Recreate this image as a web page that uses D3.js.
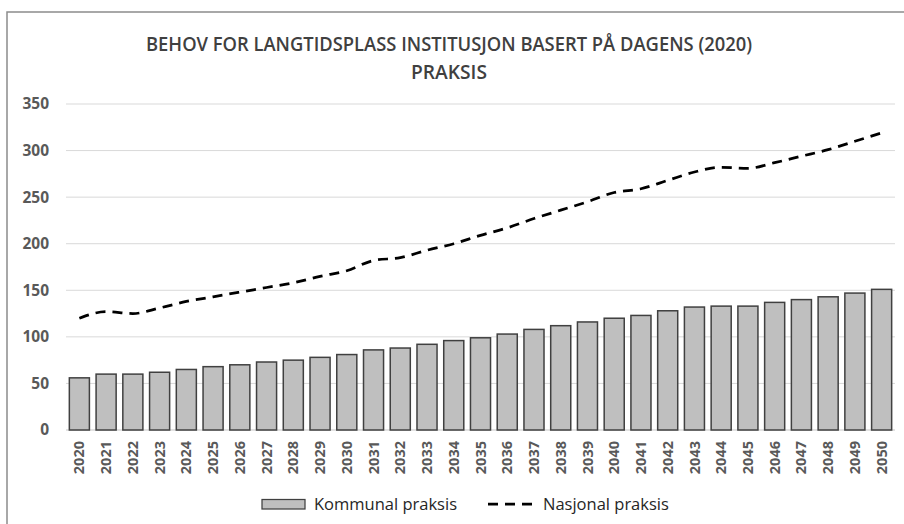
<!DOCTYPE html>
<html>
<head>
<meta charset="utf-8">
<script src="https://cdn.jsdelivr.net/npm/d3@7"></script>
<style>
  body { margin: 0; background: #fff; }
  svg { display: block; font-family: "Open Sans", sans-serif; }
</style>
</head>
<body>
<svg width="904" height="524"></svg>
<script>
var years = ["2020","2021","2022","2023","2024","2025","2026","2027","2028","2029","2030",
             "2031","2032","2033","2034","2035","2036","2037","2038","2039","2040",
             "2041","2042","2043","2044","2045","2046","2047","2048","2049","2050"];

var kommunal = [56, 60, 60, 62, 65, 68, 70, 73, 75, 78, 81,
                86, 88, 92, 96, 99, 103, 108, 112, 116, 120,
                123, 128, 132, 133, 133, 137, 140, 143, 147, 151];

var nasjonal = [120, 127, 125, 131, 138, 143, 148, 153, 158, 165, 171,
                182, 185, 193, 200, 209, 217, 227, 236, 245, 255,
                259, 268, 277, 282, 281, 287, 294, 301, 310, 319];

var yTicks = [0, 50, 100, 150, 200, 250, 300, 350];

var titleLines = ["BEHOV FOR LANGTIDSPLASS INSTITUSJON BASERT PÅ DAGENS (2020)", "PRAKSIS"];
var legendNames = ["Kommunal praksis", "Nasjonal praksis"];

var svg = d3.select("svg"),
    margin = { top: 104, right: 9, bottom: 94, left: 66 },
    width = +svg.attr("width") - margin.left - margin.right,
    height = +svg.attr("height") - margin.top - margin.bottom;

// outer frame (only left and top edges visible in the picture)
svg.append("rect")
    .attr("x", 7).attr("y", 12)
    .attr("width", 940).attr("height", 560)
    .attr("fill", "none")
    .attr("stroke", "#8c8c8c")
    .attr("stroke-width", 1.5);

// title
svg.append("text")
    .attr("x", 449).attr("y", 51)
    .attr("text-anchor", "middle")
    .attr("font-size", 20)
    .attr("font-weight", 600)
    .attr("fill", "#404040")
    .attr("textLength", 606)
    .attr("lengthAdjust", "spacingAndGlyphs")
    .text(titleLines[0]);
svg.append("text")
    .attr("x", 449).attr("y", 79)
    .attr("text-anchor", "middle")
    .attr("font-size", 20)
    .attr("font-weight", 600)
    .attr("fill", "#404040")
    .attr("textLength", 76)
    .attr("lengthAdjust", "spacingAndGlyphs")
    .text(titleLines[1]);

var g = svg.append("g").attr("transform", "translate(" + margin.left + "," + margin.top + ")");

var x = d3.scaleBand()
    .domain(years)
    .range([0, width])
    .paddingInner(0.25)
    .paddingOuter(0.125);

var y = d3.scaleLinear()
    .domain([0, 350])
    .range([height, 0]);

// gridlines
g.append("g")
    .selectAll("line")
    .data(yTicks)
    .enter().append("line")
    .attr("x1", 0).attr("x2", width)
    .attr("y1", function (d) { return y(d); })
    .attr("y2", function (d) { return y(d); })
    .attr("stroke", "#d9d9d9")
    .attr("stroke-width", function (d) { return d === 0 ? 1.5 : 1; });

// y axis labels
var yAxis = g.append("g")
    .call(d3.axisLeft(y).tickValues(yTicks).tickSize(0).tickPadding(17));
yAxis.select(".domain").remove();
yAxis.selectAll("text")
    .attr("font-family", "Open Sans, sans-serif")
    .attr("font-size", 15.5)
    .attr("font-weight", 700)
    .attr("fill", "#595959");

// x axis labels
var xAxis = g.append("g")
    .attr("transform", "translate(0," + height + ")")
    .call(d3.axisBottom(x).tickSize(0));
xAxis.select(".domain").remove();
xAxis.selectAll("text")
    .attr("font-family", "Open Sans, sans-serif")
    .attr("font-size", 14.5)
    .attr("font-weight", 700)
    .attr("fill", "#595959")
    .attr("text-anchor", "end")
    .attr("transform", "rotate(-90)")
    .attr("x", -11)
    .attr("y", 0)
    .attr("dy", "0.35em");

// bars
g.append("g")
    .selectAll("rect")
    .data(kommunal)
    .enter().append("rect")
    .attr("x", function (d, i) { return x(years[i]); })
    .attr("y", function (d) { return y(d); })
    .attr("width", x.bandwidth())
    .attr("height", function (d) { return height - y(d); })
    .attr("fill", "#bfbfbf")
    .attr("stroke", "#404040")
    .attr("stroke-width", 1.5);

// dashed line
var line = d3.line()
    .x(function (d, i) { return x(years[i]) + x.bandwidth() / 2; })
    .y(function (d) { return y(d); })
    .curve(d3.curveMonotoneX);

g.append("path")
    .datum(nasjonal)
    .attr("fill", "none")
    .attr("stroke", "#000")
    .attr("stroke-width", 2.75)
    .attr("stroke-dasharray", "10,7")
    .attr("d", line);

// legend
var legend = svg.append("g");
legend.append("rect")
    .attr("x", 262).attr("y", 499.5)
    .attr("width", 43).attr("height", 9.5)
    .attr("fill", "#bfbfbf")
    .attr("stroke", "#404040")
    .attr("stroke-width", 1.25);
legend.append("text")
    .attr("x", 314).attr("y", 510)
    .attr("font-size", 16.5)
    .attr("fill", "#262626")
    .text(legendNames[0]);
legend.append("line")
    .attr("x1", 488).attr("x2", 537)
    .attr("y1", 504).attr("y2", 504)
    .attr("stroke", "#000")
    .attr("stroke-width", 2.75)
    .attr("stroke-dasharray", "10,7");
legend.append("text")
    .attr("x", 543).attr("y", 510)
    .attr("font-size", 16.5)
    .attr("fill", "#262626")
    .text(legendNames[1]);
</script>
</body>
</html>
